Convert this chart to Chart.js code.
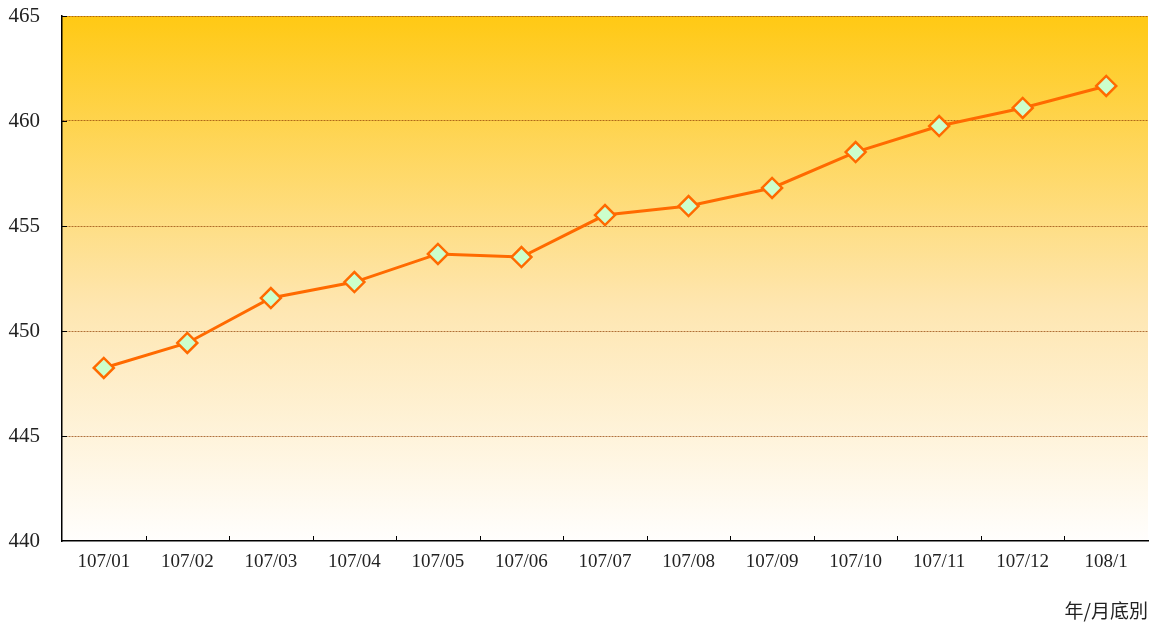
<!DOCTYPE html>
<html>
<head>
<meta charset="utf-8">
<script src="https://cdn.jsdelivr.net/npm/chart.js@4"></script>
<style>
    html, body { margin: 0; padding: 0; background: #fff; }
    #wrap { width: 1150px; height: 622px; }
</style>
</head>
<body>
<div id="wrap"><canvas id="population-chart" width="1150" height="622"></canvas></div>
<script>
(function () {
    const months = ["107/01", "107/02", "107/03", "107/04", "107/05", "107/06", "107/07",
        "107/08", "107/09", "107/10", "107/11", "107/12", "108/1"];
    const values = [448.24, 449.43, 451.57, 452.33, 453.67, 453.52, 455.52,
        455.95, 456.81, 458.52, 459.76, 460.62, 461.67];
    const yTicks = [440, 445, 450, 455, 460, 465];
    const xTitle = "年/月底別";

    const serif = "'Liberation Serif', 'Noto Sans CJK TC', serif";

    // gold to white gradient behind the plot area
    const backdrop = {
        id: 'backdrop',
        beforeDraw(chart) {
            const { ctx, chartArea: a } = chart;
            const g = ctx.createLinearGradient(0, a.top, 0, a.bottom);
            g.addColorStop(0, '#ffc914');
            g.addColorStop(0.55, '#fee6b0');
            g.addColorStop(1, '#fffefd');
            ctx.save();
            ctx.fillStyle = g;
            ctx.fillRect(a.left, a.top, a.right - a.left, a.bottom - a.top);
            ctx.restore();
        },
        afterDatasetsDraw(chart) {
            // small tick marks pointing into the plot
            const { ctx, chartArea: a, scales } = chart;
            ctx.save();
            ctx.strokeStyle = '#000';
            ctx.lineWidth = 1;
            ctx.beginPath();
            for (let i = 0; i < months.length - 1; i++) {
                const x = Math.round((scales.x.getPixelForValue(i) + scales.x.getPixelForValue(i + 1)) / 2) + 0.5;
                ctx.moveTo(x, a.bottom);
                ctx.lineTo(x, a.bottom - 5);
            }
            yTicks.slice(1).forEach(v => {
                const y = Math.round(scales.y.getPixelForValue(v)) + 0.5;
                ctx.moveTo(a.left, y);
                ctx.lineTo(a.left + 5, y);
            });
            ctx.stroke();
            ctx.restore();
        }
    };

    new Chart(document.getElementById('population-chart'), {
        type: 'line',
        data: {
            labels: months,
            datasets: [{
                data: values,
                borderColor: '#ff6a00',
                borderWidth: 3,
                pointStyle: 'rectRot',
                pointRadius: 10,
                pointBorderWidth: 2.5,
                pointBackgroundColor: '#ccffcc',
                pointBorderColor: '#ff6a00',
                tension: 0,
            }]
        },
        options: {
            responsive: false,
            animation: false,
            layout: { autoPadding: false, padding: { top: 16, right: 2, left: 0, bottom: 0 } },
            plugins: {
                legend: { display: false },
                tooltip: { enabled: false },
            },
            scales: {
                x: {
                    offset: true,
                    grid: { display: false, drawTicks: false },
                    border: { color: '#000', width: 1.5 },
                    ticks: {
                        color: '#222',
                        font: { family: serif, size: 19 },
                        padding: 10,
                        maxRotation: 0,
                        autoSkip: false,
                    },
                    title: {
                        display: true,
                        text: xTitle,
                        align: 'end',
                        color: '#222',
                        font: { family: "'Noto Sans CJK TC', sans-serif", size: 19 },
                        padding: { top: 6, bottom: 0 },
                    },
                    afterFit(scale) {
                        scale.height = 81;
                        scale.paddingLeft = 0;
                        scale.paddingRight = 0;
                    },
                },
                y: {
                    min: 440,
                    max: 465,
                    afterBuildTicks(scale) { scale.ticks = yTicks.map(v => ({ value: v })); },
                    grid: {
                        drawTicks: false,
                        color: ctx => ctx.tick && ctx.tick.value === 440 ? 'rgba(0,0,0,0)' : 'rgba(150,70,10,0.75)',
                        lineWidth: 1,
                    },
                    border: { color: '#000', width: 1.5, dash: [2, 1] },
                    ticks: {
                        color: '#222',
                        font: { family: serif, size: 21 },
                        padding: 22,
                    },
                    afterFit(scale) {
                        scale.width = 62;
                        scale.paddingTop = 0;
                        scale.paddingBottom = 0;
                    },
                }
            }
        },
        plugins: [backdrop],
    });
})();
</script>
</body>
</html>
